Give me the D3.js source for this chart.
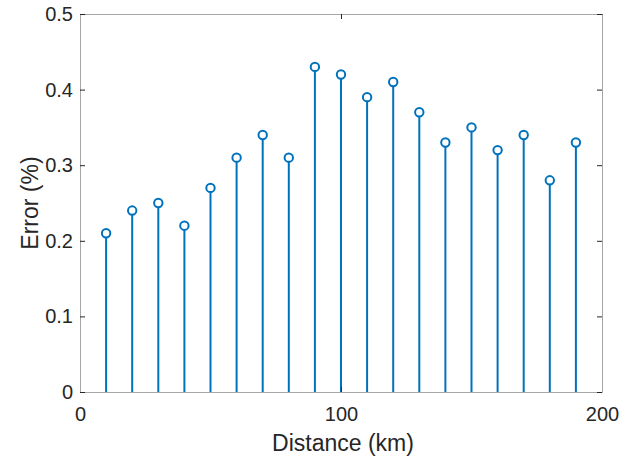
<!DOCTYPE html>
<html>
<head>
<meta charset="utf-8">
<script src="https://cdn.jsdelivr.net/npm/d3@7"></script>
<style>
  html, body { margin: 0; padding: 0; background: #fff; }
  svg { display: block; font-family: "Liberation Sans", Arial, sans-serif; }
</style>
</head>
<body>
<svg id="chart" width="641" height="459"></svg>
<script>
// Stem plot of error versus distance
const distances = [10, 20, 30, 40, 50, 60, 70, 80, 90, 100, 110, 120, 130, 140, 150, 160, 170, 180, 190];
const errors = [0.21, 0.24, 0.25, 0.22, 0.27, 0.31, 0.34, 0.31, 0.43, 0.42, 0.39, 0.41, 0.37, 0.33, 0.35, 0.32, 0.34, 0.28, 0.33];
const xTicks = [0, 100, 200];
const yTicks = [0, 0.1, 0.2, 0.3, 0.4, 0.5];

const svg = d3.select("#chart");
const plotLeft = 80, plotRight = 602, plotTop = 14, plotBottom = 392;
const color = "#0072BD";
const axisColor = "#262626";

const x = d3.scaleLinear().domain([0, 200]).range([plotLeft, plotRight]);
const y = d3.scaleLinear().domain([0, 0.5]).range([plotBottom, plotTop]);

// Stems
svg.append("g").selectAll("line").data(distances).join("line")
  .attr("x1", (d) => x(d)).attr("x2", (d) => x(d))
  .attr("y1", y(0)).attr("y2", (d, i) => y(errors[i]))
  .attr("stroke", color).attr("stroke-width", 2);

// Markers
svg.append("g").selectAll("circle").data(distances).join("circle")
  .attr("cx", (d) => x(d)).attr("cy", (d, i) => y(errors[i]))
  .attr("r", 4.2).attr("fill", "#fff")
  .attr("stroke", color).attr("stroke-width", 2);

// Axes with inward ticks on all four sides
const fmtY = (d) => d === 0 ? "0" : d3.format(".1f")(d);
const styleAxis = (g) => {
  g.select(".domain").attr("stroke", "#a6a6a6");
  g.selectAll(".tick line").attr("stroke", axisColor);
  g.selectAll("text").attr("fill", axisColor).attr("font-size", 20);
};

svg.append("g").attr("transform", `translate(0,${plotBottom})`)
  .call(d3.axisBottom(x).tickValues(xTicks).tickSizeInner(-5).tickSizeOuter(0).tickPadding(15))
  .call(styleAxis);
svg.append("g").attr("transform", `translate(0,${plotTop})`)
  .call(d3.axisTop(x).tickValues(xTicks).tickSizeInner(-5).tickSizeOuter(0).tickFormat(""))
  .call(styleAxis);
svg.append("g").attr("transform", `translate(${plotLeft},0)`)
  .call(d3.axisLeft(y).tickValues(yTicks).tickFormat(fmtY).tickSizeInner(-5).tickSizeOuter(0).tickPadding(7))
  .call(styleAxis);
svg.append("g").attr("transform", `translate(${plotRight},0)`)
  .call(d3.axisRight(y).tickValues(yTicks).tickSizeInner(-5).tickSizeOuter(0).tickFormat(""))
  .call(styleAxis);

// Axis titles
svg.append("text")
  .attr("x", 343).attr("y", 451)
  .attr("text-anchor", "middle").attr("font-size", 23).attr("fill", axisColor)
  .text("Distance (km)");
svg.append("text")
  .attr("transform", `translate(38,${(plotTop + plotBottom) / 2}) rotate(-90)`)
  .attr("text-anchor", "middle").attr("font-size", 23).attr("fill", axisColor)
  .text("Error (%)");
</script>
</body>
</html>
